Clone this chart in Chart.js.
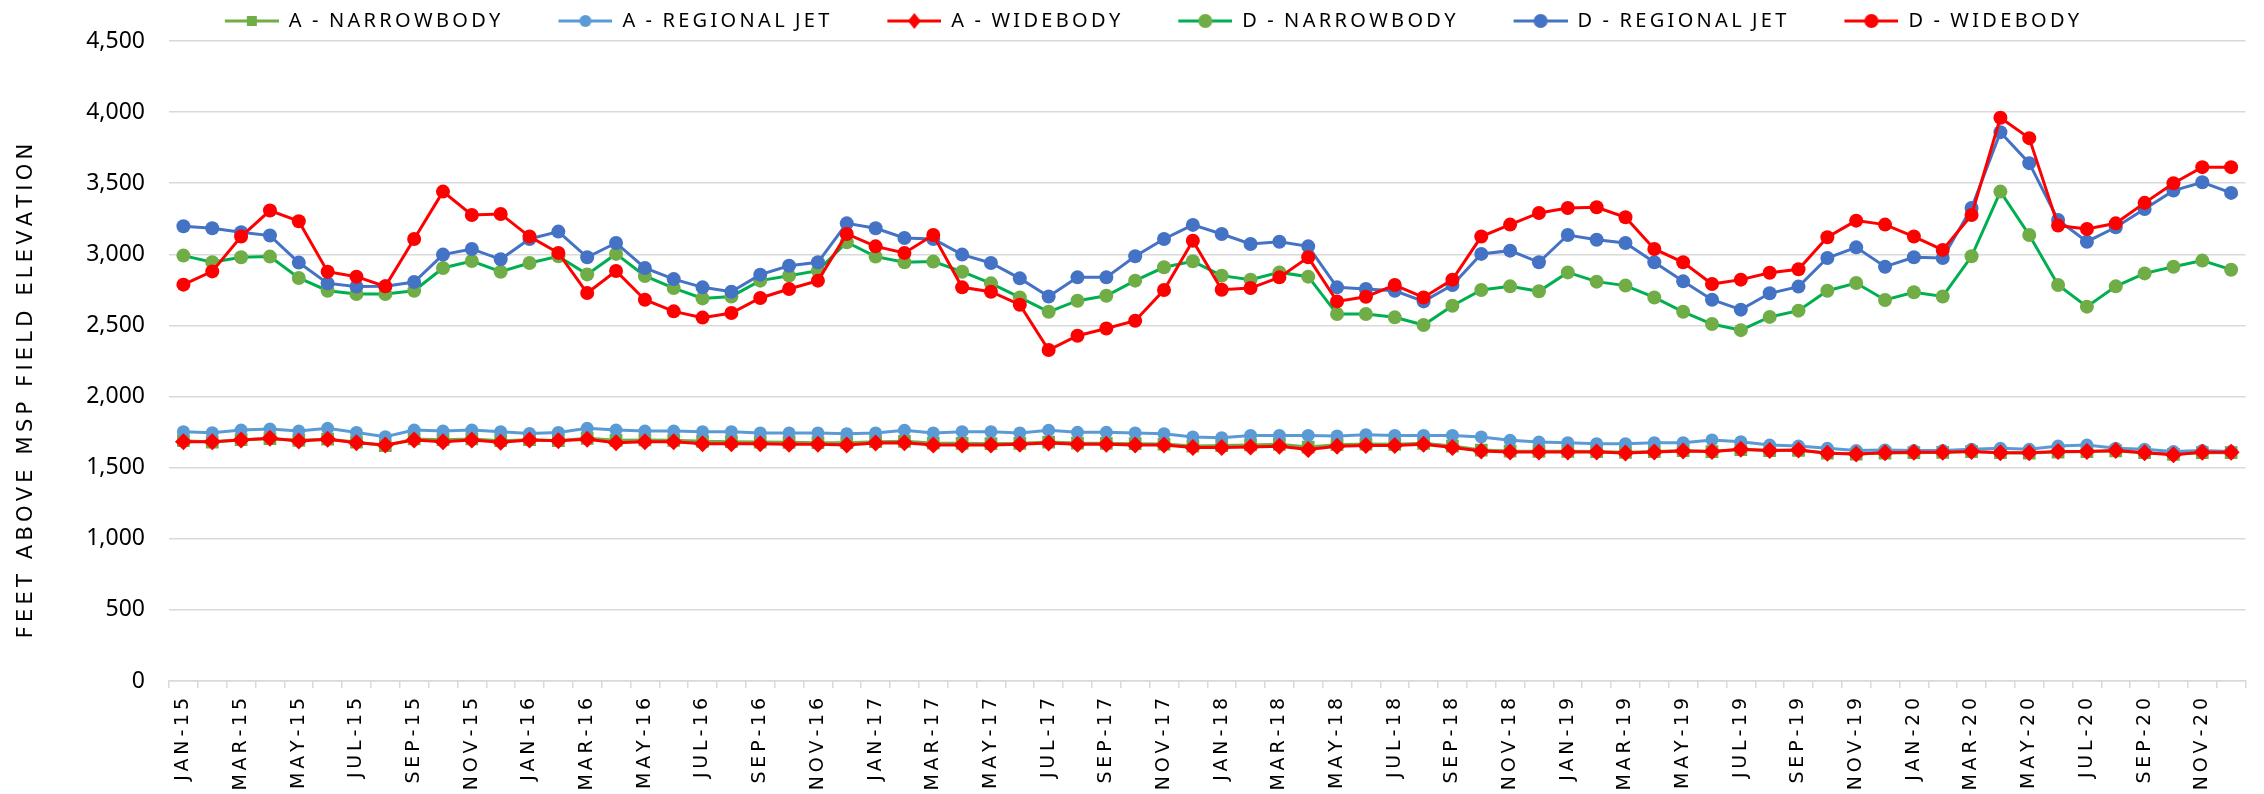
<!DOCTYPE html>
<html>
<head>
<meta charset="utf-8">
<script src="https://cdn.jsdelivr.net/npm/chart.js"></script>
<style>
  html, body { margin: 0; padding: 0; background: #fff; }
  canvas { display: block; }
</style>
</head>
<body>
<canvas id="chart" width="2264" height="794"></canvas>
<script>
// months Jan-15 .. Dec-20
var months = [
    "JAN-15", "FEB-15", "MAR-15", "APR-15", "MAY-15", "JUN-15", "JUL-15", "AUG-15", "SEP-15", "OCT-15", "NOV-15", "DEC-15",
    "JAN-16", "FEB-16", "MAR-16", "APR-16", "MAY-16", "JUN-16", "JUL-16", "AUG-16", "SEP-16", "OCT-16", "NOV-16", "DEC-16",
    "JAN-17", "FEB-17", "MAR-17", "APR-17", "MAY-17", "JUN-17", "JUL-17", "AUG-17", "SEP-17", "OCT-17", "NOV-17", "DEC-17",
    "JAN-18", "FEB-18", "MAR-18", "APR-18", "MAY-18", "JUN-18", "JUL-18", "AUG-18", "SEP-18", "OCT-18", "NOV-18", "DEC-18",
    "JAN-19", "FEB-19", "MAR-19", "APR-19", "MAY-19", "JUN-19", "JUL-19", "AUG-19", "SEP-19", "OCT-19", "NOV-19", "DEC-19",
    "JAN-20", "FEB-20", "MAR-20", "APR-20", "MAY-20", "JUN-20", "JUL-20", "AUG-20", "SEP-20", "OCT-20", "NOV-20", "DEC-20"
];

var seriesNames = ["A - NARROWBODY", "A - REGIONAL JET", "A - WIDEBODY", "D - NARROWBODY", "D - REGIONAL JET", "D - WIDEBODY"];

// arrivals (A) - feet above field elevation
var aNarrowbody = [
    1690, 1680, 1697, 1704, 1692, 1700, 1680, 1655, 1702, 1697, 1702, 1690,
    1697, 1690, 1706, 1692, 1695, 1692, 1685, 1683, 1680, 1678, 1676, 1676,
    1683, 1685, 1673, 1671, 1669, 1671, 1680, 1673, 1671, 1669, 1666, 1652,
    1655, 1660, 1664, 1645, 1662, 1666, 1664, 1671, 1652, 1624, 1617, 1615,
    1615, 1613, 1608, 1613, 1620, 1613, 1627, 1620, 1622, 1603, 1596, 1603,
    1605, 1608, 1613, 1605, 1603, 1610, 1613, 1618, 1605, 1594, 1606, 1605
];
var aRegionalJet = [
    1753, 1746, 1765, 1772, 1758, 1777, 1748, 1718, 1765, 1758, 1765, 1753,
    1741, 1748, 1777, 1765, 1758, 1758, 1753, 1753, 1744, 1744, 1744, 1739,
    1744, 1763, 1744, 1753, 1753, 1744, 1763, 1749, 1749, 1744, 1739, 1716,
    1711, 1727, 1727, 1727, 1723, 1732, 1727, 1727, 1727, 1716, 1692, 1680,
    1676, 1669, 1669, 1676, 1676, 1695, 1683, 1659, 1652, 1636, 1620, 1624,
    1620, 1620, 1629, 1636, 1629, 1652, 1659, 1636, 1629, 1613, 1620, 1613
];
var aWidebody = [
    1683, 1683, 1695, 1706, 1688, 1699, 1676, 1659, 1695, 1683, 1695, 1678,
    1695, 1690, 1699, 1676, 1683, 1683, 1669, 1669, 1669, 1664, 1664, 1659,
    1673, 1676, 1659, 1659, 1659, 1664, 1673, 1664, 1664, 1659, 1659, 1641,
    1641, 1645, 1650, 1627, 1650, 1655, 1655, 1664, 1641, 1617, 1610, 1610,
    1610, 1610, 1603, 1610, 1617, 1613, 1629, 1620, 1624, 1601, 1596, 1605,
    1608, 1608, 1613, 1605, 1605, 1613, 1613, 1620, 1605, 1591, 1608, 1608
];

// departures (D)
var dNarrowbody = [
    2991, 2944, 2979, 2984, 2834, 2744, 2721, 2721, 2744, 2904, 2953, 2878,
    2939, 2986, 2859, 3003, 2848, 2763, 2690, 2704, 2815, 2850, 2885, 3085,
    2984, 2944, 2949, 2878, 2796, 2697, 2596, 2674, 2709, 2815, 2909, 2951,
    2850, 2822, 2873, 2843, 2580, 2580, 2557, 2503, 2639, 2749, 2775, 2740,
    2873, 2808, 2780, 2697, 2596, 2510, 2467, 2560, 2604, 2744, 2798, 2679,
    2733, 2704, 2986, 3441, 3136, 2784, 2632, 2775, 2866, 2913, 2956, 2892
];
var dRegionalJet = [
    3197, 3183, 3155, 3132, 2942, 2796, 2773, 2775, 2805, 2998, 3038, 2965,
    3108, 3160, 2979, 3080, 2904, 2826, 2768, 2737, 2857, 2920, 2944, 3218,
    3183, 3115, 3108, 2998, 2939, 2831, 2704, 2838, 2838, 2986, 3108, 3207,
    3143, 3073, 3089, 3056, 2768, 2756, 2744, 2669, 2784, 3003, 3026, 2944,
    3136, 3103, 3080, 2944, 2810, 2681, 2611, 2726, 2773, 2974, 3049, 2913,
    2979, 2974, 3326, 3859, 3641, 3242, 3089, 3190, 3319, 3448, 3507, 3432
];
var dWidebody = [
    2787, 2880, 3125, 3308, 3233, 2878, 2843, 2775, 3108, 3441, 3277, 3284,
    3125, 3010, 2728, 2883, 2681, 2599, 2555, 2587, 2693, 2756, 2815, 3143,
    3056, 3010, 3136, 2768, 2737, 2646, 2327, 2428, 2479, 2533, 2749, 3096,
    2751, 2763, 2838, 2979, 2669, 2702, 2784, 2697, 2822, 3125, 3209, 3291,
    3326, 3331, 3261, 3038, 2944, 2791, 2822, 2871, 2895, 3120, 3237, 3209,
    3125, 3031, 3277, 3960, 3817, 3202, 3178, 3218, 3362, 3500, 3613, 3613
];

var yTicksMax = 4500;
var yTicksStep = 500;
var yTitle = "FEET ABOVE MSP FIELD ELEVATION";

// "condensed" goes into the font shorthand so a narrow face is used when there is one
var narrowFont = "'Noto Sans', 'DejaVu Sans', sans-serif";
var narrowStretch = "condensed";
var wideFont = "'DejaVu Sans', 'Verdana', sans-serif";
var textColor = "#000000";
var gridColor = "#d9d9d9";

var THIN = "\u2009";

// spread letters out like the Excel letter-spaced text
function spread(s, letterGap, wordGap) {
    return s.split(" ").map(function (w) { return w.split("").join(letterGap); }).join(wordGap);
}

// little canvas with line + marker, used as legend swatch
// (transparent strip on the left = gap to the previous item)
function legendSample(lineColor, markColor, shape, r) {
    var c = document.createElement("canvas");
    c.width = 104;
    c.height = 22;
    var g = c.getContext("2d");
    g.strokeStyle = lineColor;
    g.lineWidth = 3;
    g.beginPath();
    g.moveTo(50, 11);
    g.lineTo(104, 11);
    g.stroke();
    g.fillStyle = markColor;
    g.beginPath();
    var cx = 77, cy = 11;
    if (shape == "rect") {
        g.rect(cx - r, cy - r, 2 * r, 2 * r);
    } else if (shape == "rectRot") {
        g.moveTo(cx, cy - r);
        g.lineTo(cx + r * 0.8, cy);
        g.lineTo(cx, cy + r);
        g.lineTo(cx - r * 0.8, cy);
        g.closePath();
    } else {
        g.arc(cx, cy, r, 0, Math.PI * 2);
    }
    g.fill();
    return c;
}

var styles = [
    { data: aNarrowbody, line: "#70AD47", mark: "#70AD47", shape: "rect", r: 9, lr: 5, order: 5 },
    { data: aRegionalJet, line: "#5B9BD5", mark: "#5B9BD5", shape: "circle", r: 6.5, lr: 6, order: 4 },
    { data: aWidebody, line: "#FF0000", mark: "#FF0000", shape: "rectRot", r: 8.5, lr: 8, order: 3 },
    { data: dNarrowbody, line: "#00B050", mark: "#70AD47", shape: "circle", r: 7, lr: 7, order: 2 },
    { data: dRegionalJet, line: "#4472C4", mark: "#4472C4", shape: "circle", r: 7, lr: 7, order: 1 },
    { data: dWidebody, line: "#FF0000", mark: "#FF0000", shape: "circle", r: 7, lr: 7, order: 0 }
];

var samples = [];
var _datasets = [];
for (var i = 0; i < styles.length; i++) {
    var s = styles[i];
    samples.push(legendSample(s.line, s.mark, s.shape, s.lr));
    _datasets.push({
        label: seriesNames[i],
        data: s.data,
        order: s.order,
        borderColor: s.line,
        borderWidth: 3,
        pointStyle: s.shape,
        pointRadius: s.r,
        pointBackgroundColor: s.mark,
        pointBorderColor: s.mark,
        pointBorderWidth: 0,
        tension: 0,
        fill: false
    });
}

new Chart(document.getElementById("chart"), {
    type: "line",
    data: {
        labels: months,
        datasets: _datasets
    },
    options: {
        responsive: false,
        animation: false,
        layout: {
            padding: { top: 3, right: 10, left: 0, bottom: 0 }
        },
        plugins: {
            tooltip: { enabled: false },
            legend: {
                position: "top",
                labels: {
                    usePointStyle: true,
                    pointStyleWidth: 104,
                    padding: 8,
                    color: textColor,
                    font: { family: narrowFont, weight: narrowStretch, size: 20 },
                    sort: function (a, b) { return a.datasetIndex - b.datasetIndex; },
                    generateLabels: function (chart) {
                        var items = Chart.defaults.plugins.legend.labels.generateLabels(chart);
                        items.forEach(function (item) {
                            item.text = spread(seriesNames[item.datasetIndex], THIN, "  ");
                            item.pointStyle = samples[item.datasetIndex];
                        });
                        return items;
                    }
                }
            }
        },
        scales: {
            x: {
                offset: true,
                grid: {
                    offset: true,
                    drawOnChartArea: false,
                    color: gridColor,
                    lineWidth: 1.5,
                    tickLength: 7
                },
                border: { color: gridColor, width: 1.5 },
                ticks: {
                    autoSkip: false,
                    minRotation: 90,
                    maxRotation: 90,
                    padding: 10,
                    color: textColor,
                    font: { family: wideFont, size: 19 },
                    callback: function (value, index) {
                        // every second month gets a label
                        return index % 2 == 0 ? spread(this.getLabelForValue(value), THIN, " ") : "";
                    }
                },
                afterFit: function (scale) { scale.height = 113; }
            },
            y: {
                min: 0,
                max: yTicksMax,
                grid: { color: gridColor, lineWidth: 1.5, drawTicks: false },
                border: { display: false },
                ticks: {
                    stepSize: yTicksStep,
                    padding: 24,
                    color: textColor,
                    font: { family: narrowFont, weight: narrowStretch, size: 23 },
                    callback: function (v) { return v.toLocaleString("en-US"); }
                },
                title: {
                    display: true,
                    // trailing spaces push the title a bit down, as in the original
                    text: spread(yTitle, THIN, THIN + " " + THIN) + "         ",
                    color: textColor,
                    font: { family: wideFont, size: 21 },
                    padding: { top: 14, bottom: 0 }
                },
                afterFit: function (scale) { scale.width = 169; }
            }
        }
    }
});
</script>
</body>
</html>
